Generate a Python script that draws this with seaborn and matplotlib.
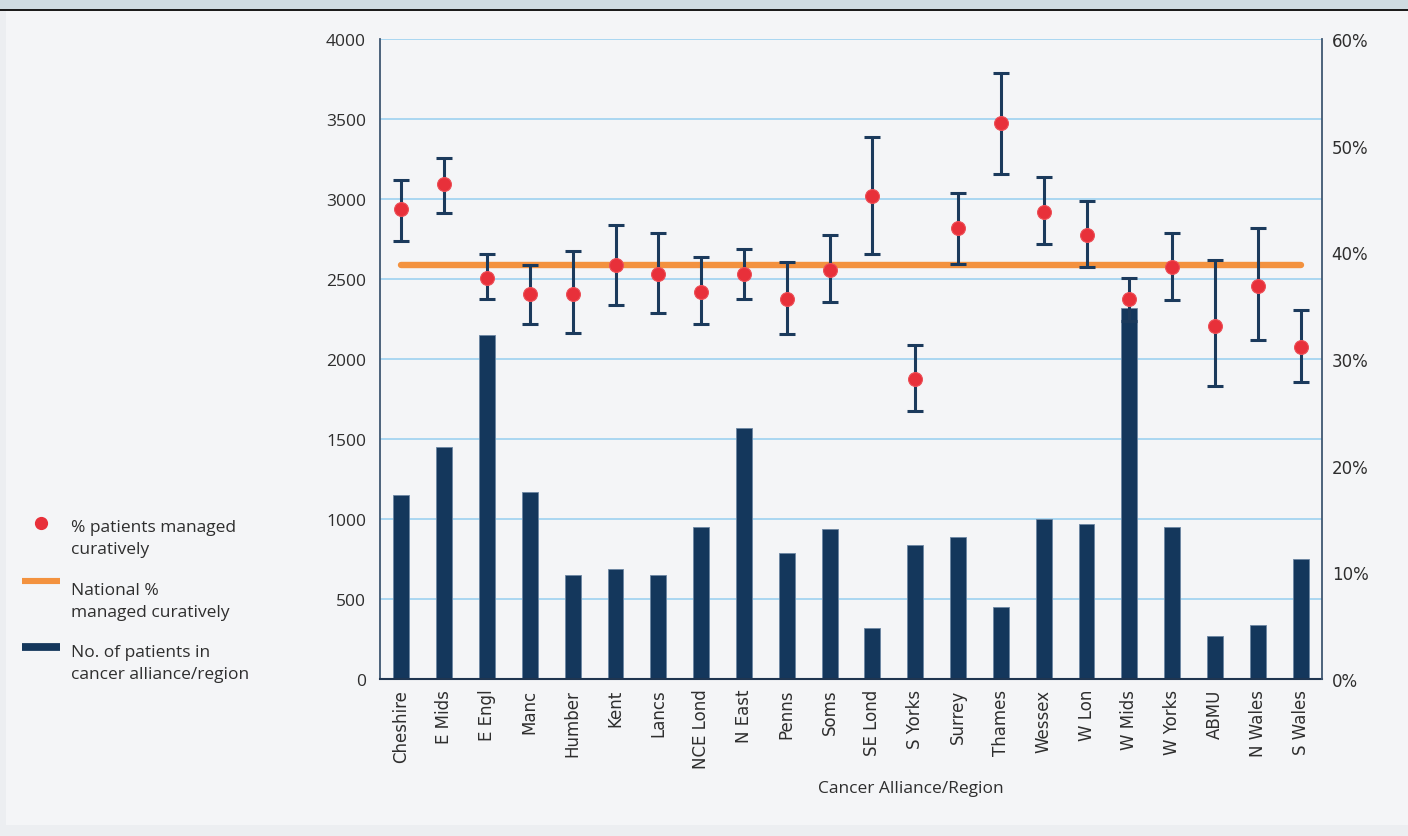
import numpy as np
import matplotlib
matplotlib.use("Agg")
import matplotlib.pyplot as plt
from matplotlib.lines import Line2D
from matplotlib.patches import Rectangle
from matplotlib.legend_handler import HandlerLine2D
from matplotlib.transforms import Affine2D
import seaborn as sns

# ---- data -------------------------------------------------------------
regions = ["Cheshire", "E Mids", "E Engl", "Manc", "Humber", "Kent", "Lancs",
           "NCE Lond", "N East", "Penns", "Soms", "SE Lond", "S Yorks", "Surrey",
           "Thames", "Wessex", "W Lon", "W Mids", "W Yorks", "ABMU", "N Wales",
           "S Wales"]
patients = [1150, 1450, 2150, 1170, 650, 685, 650, 950, 1570, 785, 935, 320,
            835, 885, 450, 1000, 970, 2320, 950, 270, 335, 750]
pct_curative = [44.1, 46.4, 37.6, 36.1, 36.1, 38.8, 38.0, 36.3, 38.0, 35.6,
                38.3, 45.3, 28.1, 42.3, 52.1, 43.8, 41.6, 35.6, 38.6, 33.1,
                36.8, 31.1]
ci_low = [41.1, 43.7, 35.6, 33.3, 32.4, 35.1, 34.3, 33.3, 35.6, 32.3, 35.3,
          39.8, 25.1, 38.9, 47.3, 40.8, 38.6, 33.6, 35.5, 27.5, 31.8, 27.8]
ci_high = [46.8, 48.8, 39.8, 38.8, 40.1, 42.6, 41.8, 39.6, 40.3, 39.1, 41.6,
           50.8, 31.3, 45.6, 56.8, 47.1, 44.8, 37.6, 41.8, 39.3, 42.3, 34.6]
national_pct = 38.8

count_ticks = list(range(0, 4001, 500))
pct_ticks = list(range(0, 61, 10))

legend_labels = ["% patients managed\ncuratively",
                 "National %\nmanaged curatively",
                 "No. of patients in\ncancer alliance/region"]
xlabel = "Cancer Alliance/Region"

# ---- style ------------------------------------------------------------
NAVY = "#14375c"
ERR = "#1b3a5c"
RED = "#e8303a"
ORANGE = "#f3923f"
GRID = "#a4d4f1"
BG = "#f4f5f7"
TEXT = "#2e2e2e"
SPINE = "#3f5772"

sns.set_theme(style="white")
plt.rcParams["font.family"] = ["Open Sans", "DejaVu Sans"]

W, H = 1408, 837
fig = plt.figure(figsize=(W / 100, H / 100), dpi=100, facecolor=BG)

# header band and frame
fig.patches.append(Rectangle((0, 1 - 10 / H), 1, 10 / H, transform=fig.transFigure,
                             facecolor="#cfdbe1", edgecolor="none", zorder=0))
fig.patches.append(Rectangle((0, 1 - 12 / H), 1, 2 / H, transform=fig.transFigure,
                             facecolor="#1c1c1c", edgecolor="none", zorder=0))
fig.patches.append(Rectangle((0, 0), 6 / W, 1 - 12 / H, transform=fig.transFigure,
                             facecolor="#eceef1", edgecolor="none", zorder=0))
fig.patches.append(Rectangle((0, 0), 1, 11 / H, transform=fig.transFigure,
                             facecolor="#eceef1", edgecolor="none", zorder=0))

ax = fig.add_axes([380 / W, 1 - 680 / H, 942 / W, 640 / H])
ax.set_facecolor("none")

# patient counts as bars on the left axis
sns.barplot(x=regions, y=patients, order=regions, ax=ax, color=NAVY,
            saturation=1, width=0.37, edgecolor="#6c86a3", linewidth=0.6)

n = len(regions)
xpos = np.arange(n)
ax.set_xlim(-0.5, n - 0.5)
ax.set_ylim(0, 4000)
ax.set_yticks(count_ticks)
ax.set_yticklabels([str(v) for v in count_ticks])
ax.grid(axis="y", color=GRID, linewidth=1.3)
ax.grid(axis="x", visible=False)
ax.set_axisbelow(True)
ax.set_xlabel("")
ax.set_ylabel("")
ax.tick_params(axis="x", length=0, pad=7, labelsize=12, colors=TEXT)
ax.tick_params(axis="y", length=0, pad=10, labelsize=12.5, colors=TEXT)
for lab in ax.get_xticklabels():
    lab.set_rotation(90)
    lab.set_family("DejaVu Sans")
for s in ("top", "right"):
    ax.spines[s].set_visible(False)
ax.spines["left"].set_color(SPINE)
ax.spines["left"].set_linewidth(1.3)
ax.spines["bottom"].set_color("#1f3550")
ax.spines["bottom"].set_linewidth(1.5)

# percentages on the secondary axis
ax2 = ax.twinx()
ax2.set_facecolor("none")
ax2.plot(xpos[[0, -1]], [national_pct, national_pct], color=ORANGE, linewidth=4.6,
         solid_capstyle="round", zorder=2)
lower = np.array(pct_curative) - np.array(ci_low)
upper = np.array(ci_high) - np.array(pct_curative)
ax2.errorbar(xpos, pct_curative, yerr=[lower, upper], fmt="none", ecolor=ERR,
             elinewidth=2.2, capsize=5.8, capthick=2.2, zorder=3)
sns.scatterplot(x=xpos, y=pct_curative, ax=ax2, color=RED, s=100, marker="o",
                edgecolor="#ec5058", linewidth=0.8, alpha=1, zorder=4,
                legend=False)
ax2.set_xlim(-0.5, n - 0.5)
ax2.set_ylim(0, 60)
ax2.set_yticks(pct_ticks)
ax2.set_yticklabels([f"{v}%" for v in pct_ticks])
ax2.grid(False)
ax2.set_ylabel("")
ax2.tick_params(axis="y", length=0, pad=7, labelsize=12, colors=TEXT)
for lab in ax2.get_yticklabels():
    lab.set_family("DejaVu Sans")
for s in ("top", "left", "bottom"):
    ax2.spines[s].set_visible(False)
ax2.spines["right"].set_color(SPINE)
ax2.spines["right"].set_linewidth(1.3)

fig.text(911 / W, 1 - 789 / H, xlabel, ha="center", va="center",
         fontsize=12.5, color=TEXT)


# legend: handles sit level with the first line of each two-line label
class RaisedHandler(HandlerLine2D):
    def __init__(self, lift, **kw):
        super().__init__(**kw)
        self.lift = lift

    def create_artists(self, legend, orig_handle, xdescent, ydescent, width,
                       height, fontsize, trans):
        shifted = Affine2D().translate(0, self.lift) + trans
        return super().create_artists(legend, orig_handle, xdescent, ydescent,
                                      width, height, fontsize, shifted)


h_dot = Line2D([], [], linestyle="none", marker="o", markersize=8.5,
               markerfacecolor=RED, markeredgecolor=RED)
h_nat = Line2D([], [], color=ORANGE, linewidth=4.4, solid_capstyle="butt")
h_bar = Line2D([], [], color=NAVY, linewidth=5.6, solid_capstyle="butt")
leg = fig.legend([h_dot, h_nat, h_bar], legend_labels, loc="upper left",
                 bbox_to_anchor=(22 / W, 1 - 520 / H), frameon=False,
                 fontsize=12.5, handlelength=2.2, handletextpad=0.6,
                 labelspacing=1.42, borderpad=0, borderaxespad=0,
                 handler_map={h_dot: RaisedHandler(10.5),
                              h_nat: RaisedHandler(14),
                              h_bar: RaisedHandler(12)})
for t in leg.get_texts():
    t.set_color(TEXT)
    t.set_linespacing(1.5)

fig.savefig("out.png", dpi=100, facecolor=BG)
